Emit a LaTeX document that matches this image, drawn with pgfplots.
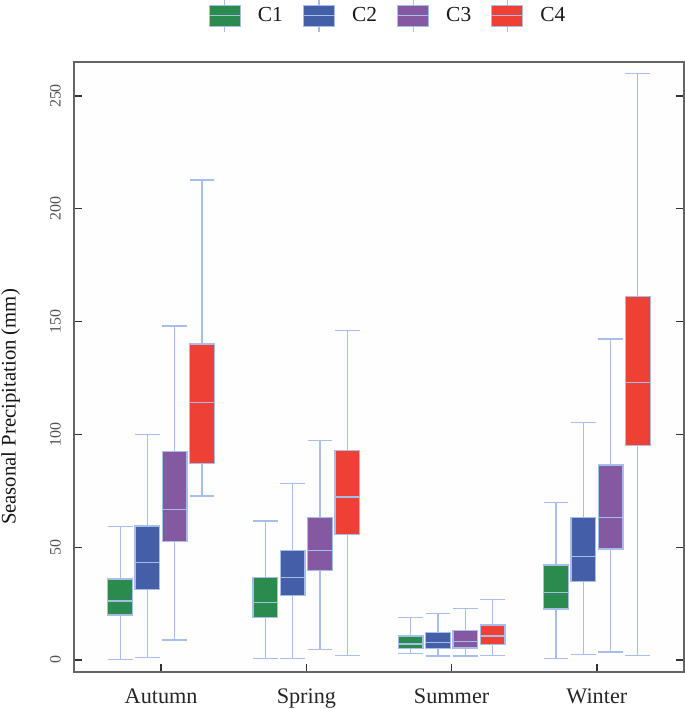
\documentclass[border=0pt]{standalone}
\usepackage{fontspec}
\setmainfont{Liberation Serif}
\usepackage{pgfplots}
\pgfplotsset{compat=1.18}
\usepgfplotslibrary{statistics}
\definecolor{Cone}{RGB}{43,139,78}
\definecolor{Ctwo}{RGB}{69,94,168}
\definecolor{Cthree}{RGB}{133,89,161}
\definecolor{Cfour}{RGB}{238,64,53}
\definecolor{linecol}{RGB}{168,190,234}
\definecolor{axcol}{RGB}{100,100,100}
\pgfplotsset{bx/.style={forget plot, draw=linecol, fill=#1, line width=1.3bp}}
\begin{document}
\begin{tikzpicture}
\begin{axis}[
  at={(0,0)}, anchor=south west,
  scale only axis, width=610bp, height=610bp,
  xmin=-0.6, xmax=3.6, ymin=-5.32, ymax=265.07,
  xtick={0,1,2,3}, xticklabels={Autumn,Spring,Summer,Winter},
  ytick={0,50,100,150,200,250},
  boxplot/draw direction=y,
  xtick pos=left, ytick pos=both,
  tick align=inside,
  major tick length=8bp,
  every tick/.style={black!80, line width=1.3bp},
  axis line style={axcol, line width=1.3bp},
  axis background/.style={fill=black!0.5},
  /pgf/number format/assume math mode=true,
  yticklabel style={rotate=90, anchor=south, inner sep=0pt, font=\fontsize{16}{18}\selectfont, text=black!68},
  yticklabel shift=13bp,
  xticklabel style={anchor=base, inner sep=0pt, yshift=-31bp, font=\fontsize{22.3}{24}\selectfont, text=black!85},
  ylabel={Seasonal Precipitation (mm)},
  ylabel style={at={(axis description cs:-0.1197,0.4344)}, anchor=north, inner sep=0pt, font=\fontsize{20.8}{24}\selectfont, text=black!92},
  legend columns=4,
  legend style={at={(axis description cs:0.5148,1.0762)}, anchor=center, draw=none, fill=none,
    font=\fontsize{21.5}{24}\selectfont, text=black!90,
    /tikz/every odd column/.style={column sep=15bp},
    /tikz/every even column/.style={column sep=18bp}},
  legend image code/.code={%
    \draw[linecol, line width=1.2bp] (15.5bp,-16bp) -- (15.5bp,16bp);
    \path[#1, draw=linecol, line width=0.8bp] (0bp,-10.5bp) rectangle (31bp,10.5bp);
    \draw[linecol, line width=1.2bp] (0bp,0bp) -- (31bp,0bp);
  },
]
\addlegendimage{fill=Cone}\addlegendentry{C1}
\addlegendimage{fill=Ctwo}\addlegendentry{C2}
\addlegendimage{fill=Cthree}\addlegendentry{C3}
\addlegendimage{fill=Cfour}\addlegendentry{C4}
% Autumn
\addplot[bx=Cone, boxplot prepared={draw position=-0.282, box extend=0.17, whisker extend=0.17, lower whisker=0.3, lower quartile=19.9, median=26.2, upper quartile=35.9, upper whisker=59.1}] coordinates {};
\addplot[bx=Ctwo, boxplot prepared={draw position=-0.094, box extend=0.17, whisker extend=0.17, lower whisker=1.2, lower quartile=31.3, median=43.1, upper quartile=59.4, upper whisker=100.0}] coordinates {};
\addplot[bx=Cthree, boxplot prepared={draw position=0.094, box extend=0.17, whisker extend=0.17, lower whisker=8.9, lower quartile=52.4, median=66.8, upper quartile=92.3, upper whisker=148.0}] coordinates {};
\addplot[bx=Cfour, boxplot prepared={draw position=0.282, box extend=0.17, whisker extend=0.17, lower whisker=72.7, lower quartile=87.2, median=114.1, upper quartile=140.1, upper whisker=212.8}] coordinates {};
% Spring
\addplot[bx=Cone, boxplot prepared={draw position=0.718, box extend=0.17, whisker extend=0.17, lower whisker=0.7, lower quartile=18.8, median=25.4, upper quartile=36.6, upper whisker=61.6}] coordinates {};
\addplot[bx=Ctwo, boxplot prepared={draw position=0.906, box extend=0.17, whisker extend=0.17, lower whisker=0.6, lower quartile=28.5, median=36.5, upper quartile=48.5, upper whisker=78.2}] coordinates {};
\addplot[bx=Cthree, boxplot prepared={draw position=1.094, box extend=0.17, whisker extend=0.17, lower whisker=4.7, lower quartile=39.6, median=48.6, upper quartile=63.1, upper whisker=97.4}] coordinates {};
\addplot[bx=Cfour, boxplot prepared={draw position=1.282, box extend=0.17, whisker extend=0.17, lower whisker=1.9, lower quartile=55.7, median=72.3, upper quartile=93.0, upper whisker=146.1}] coordinates {};
% Summer
\addplot[bx=Cone, boxplot prepared={draw position=1.718, box extend=0.17, whisker extend=0.17, lower whisker=3.0, lower quartile=5.0, median=7.1, upper quartile=10.6, upper whisker=18.8}] coordinates {};
\addplot[bx=Ctwo, boxplot prepared={draw position=1.906, box extend=0.17, whisker extend=0.17, lower whisker=1.8, lower quartile=5.0, median=7.8, upper quartile=12.1, upper whisker=20.7}] coordinates {};
\addplot[bx=Cthree, boxplot prepared={draw position=2.094, box extend=0.17, whisker extend=0.17, lower whisker=1.8, lower quartile=5.3, median=8.1, upper quartile=13.2, upper whisker=22.9}] coordinates {};
\addplot[bx=Cfour, boxplot prepared={draw position=2.282, box extend=0.17, whisker extend=0.17, lower whisker=1.9, lower quartile=7.0, median=10.6, upper quartile=15.5, upper whisker=26.9}] coordinates {};
% Winter
\addplot[bx=Cone, boxplot prepared={draw position=2.718, box extend=0.17, whisker extend=0.17, lower whisker=0.7, lower quartile=22.6, median=30.0, upper quartile=42.1, upper whisker=69.7}] coordinates {};
\addplot[bx=Ctwo, boxplot prepared={draw position=2.906, box extend=0.17, whisker extend=0.17, lower whisker=2.4, lower quartile=34.9, median=45.8, upper quartile=63.1, upper whisker=105.2}] coordinates {};
\addplot[bx=Cthree, boxplot prepared={draw position=3.094, box extend=0.17, whisker extend=0.17, lower whisker=3.5, lower quartile=49.2, median=63.1, upper quartile=86.4, upper whisker=142.3}] coordinates {};
\addplot[bx=Cfour, boxplot prepared={draw position=3.282, box extend=0.17, whisker extend=0.17, lower whisker=1.9, lower quartile=95.0, median=123.1, upper quartile=161.0, upper whisker=260.0}] coordinates {};
\end{axis}
\pgfresetboundingbox
\useasboundingbox (-74bp,-37bp) rectangle (611bp,672bp);
\end{tikzpicture}
\end{document}
